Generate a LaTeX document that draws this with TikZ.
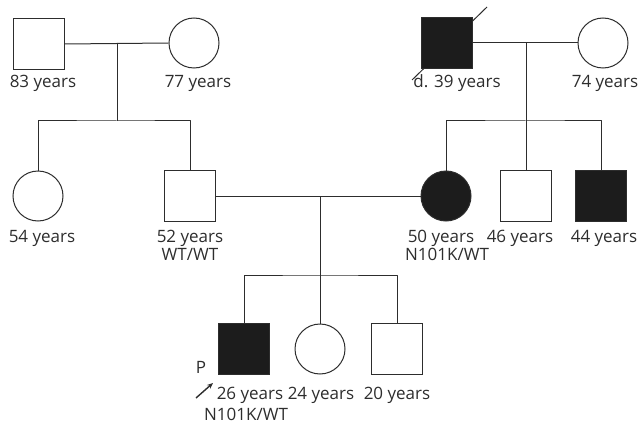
\documentclass[tikz,border=0pt]{standalone}
\usepackage{fontspec}
\setmainfont{Open Sans}
\usetikzlibrary{arrows.meta}

\begin{document}
\begin{tikzpicture}[x=1pt,y=-1pt]
	\definecolor{LINE}{RGB}{45,45,45}
	\definecolor{FILL}{RGB}{28,28,28}
	\tikzset{
		male/.style={rectangle, draw=LINE, line width=1, fill=white, minimum size=51, inner sep=0},
		female/.style={circle, draw=LINE, line width=1, fill=white, minimum size=50, inner sep=0},
		affected/.style={fill=FILL},
		age/.style={anchor=base, font=\fontsize{17}{20}\selectfont, text=LINE, inner sep=0},
		link/.style={LINE, line width=1, line join=round}
	}
	\useasboundingbox (0,0) rectangle (642,433);
	% grandparents, left
	\node[male] (gfa) at (39,44) {};
	\node[female] (gma) at (194,43) {};
	\node[age] (tgfa) at (43,88) {83 years};
	\node[age] (tgma) at (198,88) {77 years};
	% grandparents, right (deceased)
	\coordinate (dead) at (447,43);
	\draw[link] (dead) ++(-35,37) -- ++(75,-73);
	\node[male, affected] (gfb) at (dead) {};
	\node[female] (gmb) at (603,43) {};
	\node[age] (tgfb) at (457,88) {d. 39 years};
	\node[age] (tgmb) at (605,88) {74 years};
	% parents and their siblings
	\node[female] (aunt) at (38,196) {};
	\node[male] (father) at (190,196) {};
	\node[female, affected] (mother) at (446,196) {};
	\node[male] (uncle) at (526,196) {};
	\node[male, affected] (uncleb) at (601,196) {};
	\node[age] (taunt) at (42,242) {54 years};
	\node[age] (tfather) at (190,242) {52 years};
	\node[age] (gfather) at (190,260) {WT/WT};
	\node[age] (tmother) at (441,242) {50 years};
	\node[age] (gmother) at (447,260) {N101K/WT};
	\node[age] (tuncle) at (520,242) {46 years};
	\node[age] (tuncleb) at (604,242) {44 years};
	% children
	\node[male, affected] (proband) at (244,349) {};
	\node[female] (sister) at (320,349) {};
	\node[male] (brother) at (397,349) {};
	\node[age] (pmark) at (201,373) {P};
	\node[age] (tproband) at (250,399) {26 years};
	\node[age] (tsister) at (321,399) {24 years};
	\node[age] (tbrother) at (397,399) {20 years};
	\node[age] (gproband) at (246,420) {N101K/WT};
	% marriage and sibship lines
	\coordinate (ma) at (117,43);
	\coordinate (sa) at (117,121);
	\coordinate (mb) at (526,43);
	\coordinate (sb) at (526,121);
	\coordinate (mc) at (320,196);
	\coordinate (sc) at (320,275);
	\draw[link] (gfa.east) -- (gma.west);
	\draw[link] (ma) -- (sa);
	\draw[link] (aunt.north) |- (sa) -| (father.north);
	\draw[link] (gfb.east) -- (gmb.west);
	\draw[link] (mb) -- (sb);
	\draw[link] (mother.north) |- (sb) -| (uncleb.north);
	\draw[link] (sb) -- (uncle.north);
	\draw[link] (father.east) -- (mother.west);
	\draw[link] (mc) -- (sc);
	\draw[link] (proband.north) |- (sc) -| (brother.north);
	\draw[link] (sc) -- (sister.north);
	% proband arrow
	\coordinate (ptail) at (196,398);
	\coordinate (phead) at (213,383);
	\draw[link, line width=1.4, -{Stealth[length=6pt, width=5pt]}] (ptail) -- (phead);
\end{tikzpicture}
\end{document}
